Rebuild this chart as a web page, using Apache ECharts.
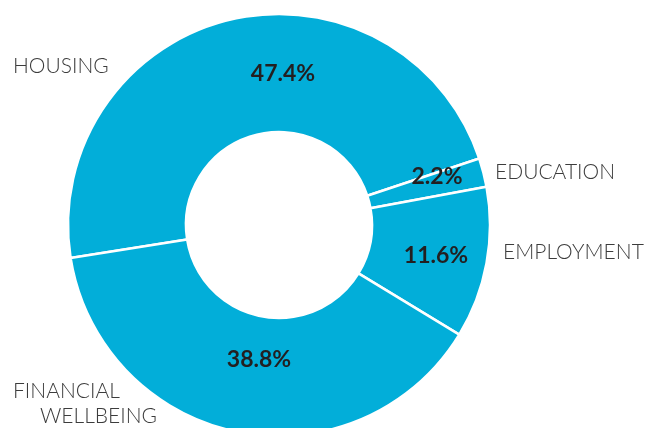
<!DOCTYPE html>
<html>
<head>
<meta charset="utf-8">
<script src="https://cdn.jsdelivr.net/npm/echarts@6/dist/echarts.min.js"></script>
<style>
  html, body { margin: 0; padding: 0; background: #fff; }
  #chart { width: 646px; height: 428px; }
</style>
</head>
<body>
<div id="chart"></div>
<script>
const categories = ['HOUSING', 'EDUCATION', 'EMPLOYMENT', 'FINANCIAL WELLBEING']
const shares = [47.4, 2.2, 11.6, 38.8]

// where the labels sit in the picture (pixels)
const valuePos = [[283, 74], [437, 177], [436, 256], [259, 360]]
const namePos = [[13, 66], [495, 172], [503, 252], [13, 404]]

const chart = echarts.init(document.getElementById('chart'))

const pieData = categories.map((name, i) => ({ name, value: shares[i] }))

const common = {
  type: 'pie',
  center: [279, 225],
  radius: [93, 211],
  startAngle: 189,
  clockwise: true,
  animation: false,
  silent: true,
  data: pieData
}

const option = {
  series: [
    {
      ...common,
      itemStyle: { color: '#02aed9', borderColor: '#fff', borderWidth: 2.5 },
      label: {
        show: true,
        position: 'inside',
        formatter: p => p.value.toFixed(1) + '%',
        color: '#231f20',
        fontFamily: 'Lato',
        fontWeight: 'bold',
        fontSize: 23
      },
      labelLine: { show: false },
      labelLayout: p => ({
        x: valuePos[p.dataIndex][0],
        y: valuePos[p.dataIndex][1],
        align: 'center',
        verticalAlign: 'middle'
      })
    },
    {
      ...common,
      z: 3,
      itemStyle: { color: 'rgba(0,0,0,0)', borderWidth: 0 },
      label: {
        show: true,
        position: 'outside',
        overflow: 'none',
        formatter: p => p.name === 'FINANCIAL WELLBEING'
          ? '{a|FINANCIAL}\n{b|WELLBEING}'
          : '{a|' + p.name + '}',
        rich: {
          a: { color: '#3c3c3c', fontFamily: 'Lato', fontWeight: 300, fontSize: 21, lineHeight: 25 },
          b: { color: '#3c3c3c', fontFamily: 'Lato', fontWeight: 300, fontSize: 21, lineHeight: 25, padding: [0, 0, 0, 27] }
        }
      },
      labelLine: { show: false },
      labelLayout: p => ({
        x: namePos[p.dataIndex][0],
        y: namePos[p.dataIndex][1],
        width: 200,
        align: 'left',
        verticalAlign: 'middle'
      })
    }
  ]
}

chart.setOption(option)
</script>
</body>
</html>
